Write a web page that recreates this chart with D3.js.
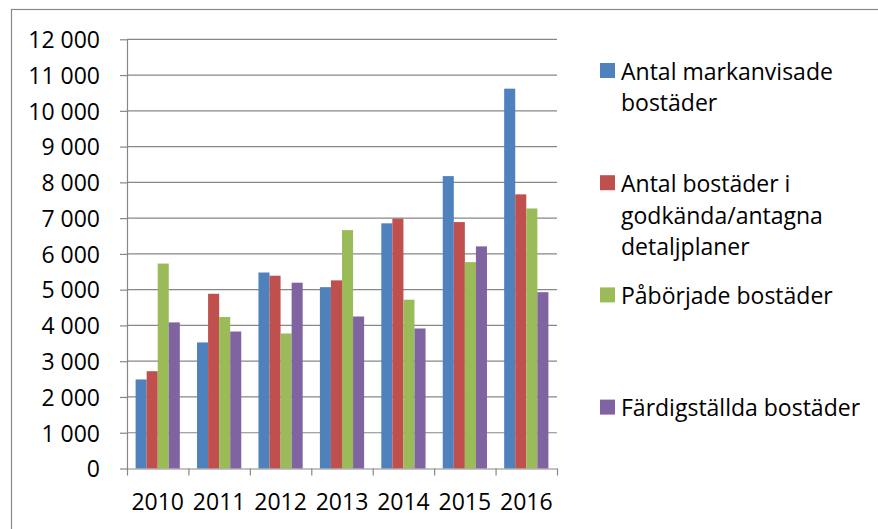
<!DOCTYPE html>
<html>
<head>
<meta charset="utf-8">
<script src="https://cdn.jsdelivr.net/npm/d3@7"></script>
<style>
  body { margin: 0; background: #fff; }
  svg text { font-family: "Open Sans", sans-serif; fill: #000; }
</style>
</head>
<body>
<script>
// data
const years = ['2010', '2011', '2012', '2013', '2014', '2015', '2016']
const seriesNames = [
    'Antal markanvisade bostäder',
    'Antal bostäder i godkända/antagna detaljplaner',
    'Påbörjade bostäder',
    'Färdigställda bostäder'
]
const legendLines = [
    ['Antal markanvisade', 'bostäder'],
    ['Antal bostäder i', 'godkända/antagna', 'detaljplaner'],
    ['Påbörjade bostäder'],
    ['Färdigställda bostäder']
]
const markanvisade = [2490, 3525, 5480, 5070, 6855, 8175, 10620]
const detaljplaner = [2720, 4885, 5390, 5260, 6985, 6890, 7665]
const paborjade = [5730, 4235, 3775, 6665, 4720, 5770, 7270]
const fardigstallda = [4085, 3830, 5195, 4250, 3915, 6210, 4930]
const yTicks = [0, 1000, 2000, 3000, 4000, 5000, 6000, 7000, 8000, 9000, 10000, 11000, 12000]

const seriesValues = [markanvisade, detaljplaner, paborjade, fardigstallda]
const colors = ['#4F81BD', '#C0504D', '#9BBB59', '#8064A2']

const width = 878, height = 529
const plot = {left: 127, right: 557, top: 39.3, bottom: 468.5}
const fontSize = 23

const svg = d3.select('body').append('svg')
    .attr('width', width)
    .attr('height', height)

// outer frame of the chart area (runs off the right and bottom edges)
svg.append('rect')
    .attr('x', 11.5)
    .attr('y', 9.5)
    .attr('width', width + 20)
    .attr('height', height + 20)
    .attr('fill', '#fff')
    .attr('stroke', '#898989')
    .attr('stroke-width', 1.2)

// scales
const xScale = d3.scaleBand()
    .domain(years)
    .range([plot.left, plot.right])
    .paddingInner(0.28)
    .paddingOuter(0.14)

const xInner = d3.scaleBand()
    .domain(d3.range(seriesNames.length))
    .range([0, xScale.bandwidth()])

const yScale = d3.scaleLinear()
    .domain([0, 12000])
    .range([plot.bottom, plot.top])

const fmt = d3.formatLocale({decimal: ',', thousands: ' ', grouping: [3], currency: ['', '']}).format(',')

// gridlines
svg.append('g')
    .selectAll('line')
    .data(yTicks.slice(1))
    .enter()
    .append('line')
        .attr('x1', plot.left)
        .attr('x2', plot.right)
        .attr('y1', d => yScale(d))
        .attr('y2', d => yScale(d))
        .attr('stroke', '#878787')
        .attr('stroke-width', 1.2)

// y axis
const yAxis = svg.append('g')
    .attr('transform', 'translate(' + plot.left + ',0)')
    .call(d3.axisLeft(yScale).tickValues(yTicks).tickFormat(fmt).tickSize(7).tickPadding(20).tickSizeOuter(0))
yAxis.selectAll('line, path').attr('stroke', '#878787').attr('stroke-width', 1.2)
yAxis.selectAll('text').style('font-size', fontSize + 'px').attr('dy', '0.36em')

// bars
seriesValues.forEach((vals, si) => {
    svg.append('g')
        .selectAll('rect')
        .data(vals)
        .enter()
        .append('rect')
            .attr('x', (d, i) => xScale(years[i]) + xInner(si))
            .attr('y', d => yScale(d))
            .attr('width', xInner.bandwidth())
            .attr('height', d => yScale(0) - yScale(d))
            .attr('fill', colors[si])
})

// x axis: tick marks at the category boundaries
const boundary = d3.scaleLinear().domain([0, years.length]).range([plot.left, plot.right])
const xTickAxis = svg.append('g')
    .attr('transform', 'translate(0,' + plot.bottom + ')')
    .call(d3.axisBottom(boundary).tickValues(d3.range(years.length + 1)).tickFormat('').tickSize(7).tickSizeOuter(0))
xTickAxis.selectAll('line, path').attr('stroke', '#878787').attr('stroke-width', 1.2)

// x axis labels
const xLabels = svg.append('g')
    .attr('transform', 'translate(0,' + plot.bottom + ')')
    .call(d3.axisBottom(xScale).tickSize(0).tickPadding(25))
xLabels.select('.domain').remove()
xLabels.selectAll('text').style('font-size', fontSize + 'px')

// legend
const legend = svg.append('g').attr('transform', 'translate(600,0)')
legendLines.forEach((lines, i) => {
    const y0 = 71.5 + i * 112.2
    legend.append('rect')
        .attr('x', 0)
        .attr('y', y0 - 8.5)
        .attr('width', 15)
        .attr('height', 15)
        .attr('fill', colors[i])
    const t = legend.append('text')
        .attr('x', 21)
        .attr('y', y0)
        .style('font-size', fontSize + 'px')
    lines.forEach((line, j) => {
        t.append('tspan')
            .attr('x', 21)
            .attr('y', y0 + j * 31.6)
            .attr('dy', '0.36em')
            .text(line)
    })
})
</script>
</body>
</html>
